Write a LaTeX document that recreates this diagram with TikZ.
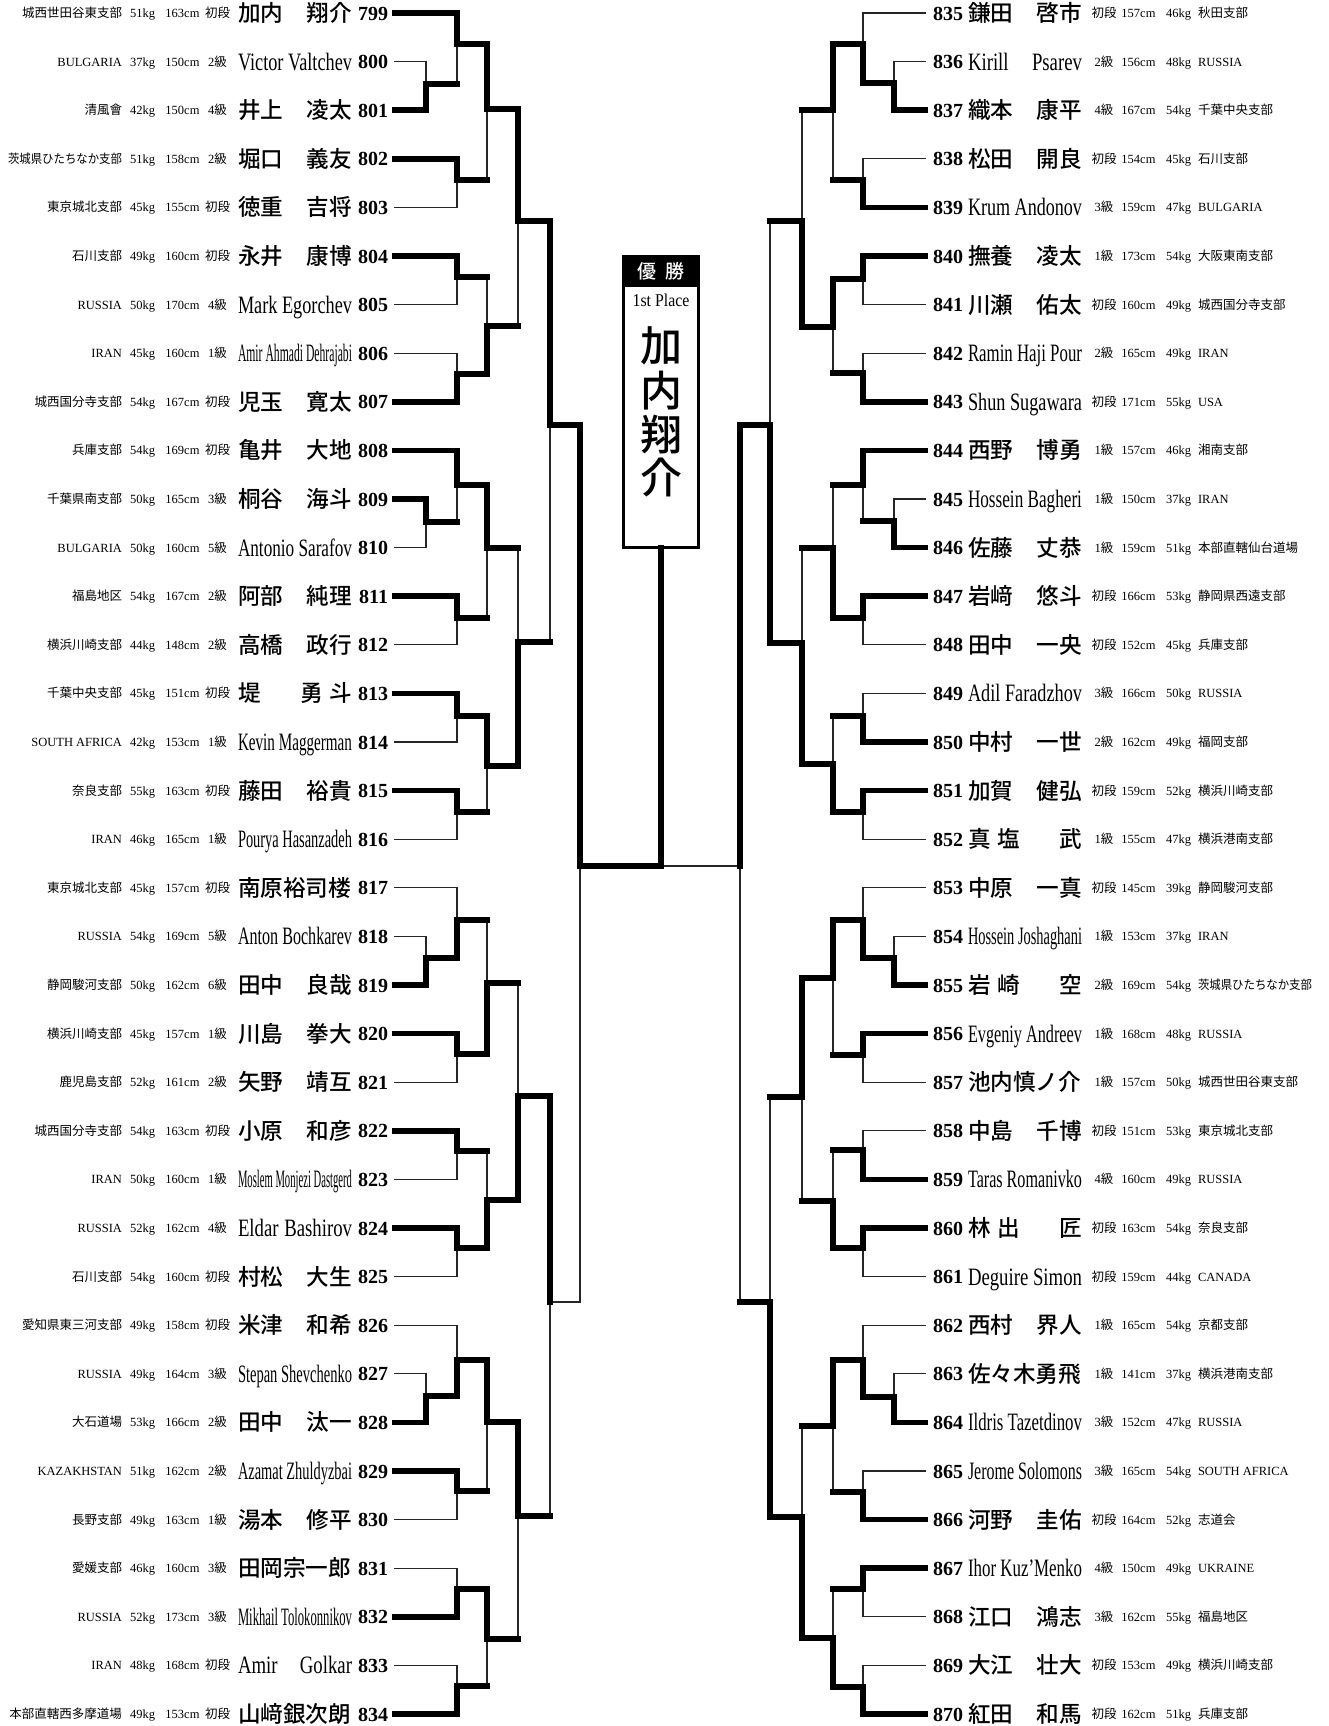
\documentclass[tikz,border=0pt]{standalone}
\usepackage{fontspec}
\usepackage{graphicx}
\setmainfont{Liberation Serif}
\IfFontExistsTF{Noto Sans CJK JP Medium}{%
  \newfontfamily\cjkfont{Noto Sans CJK JP}[BoldFont={Noto Sans CJK JP Medium}]}{%
  \newfontfamily\cjkfont{Noto Sans CJK JP}[BoldFont={Noto Sans CJK JP}]}
\usetikzlibrary{calc}
% automatic switch to the CJK font for CJK characters
\newXeTeXintercharclass\cjkcls
\newcount\cjkc
\def\setcls#1#2{\cjkc=#1\relax\loop\XeTeXcharclass\cjkc=\cjkcls\advance\cjkc by 1\relax\ifnum\cjkc<#2\repeat}
\setcls{"3000}{"3100}
\setcls{"4E00}{"A000}
\setcls{"F900}{"FB00}
\setcls{"FF00}{"FFF0}
\XeTeXinterchartoks 0 \cjkcls = {\cjkfont}
\XeTeXinterchartoks 4095 \cjkcls = {\cjkfont}
\XeTeXinterchartoks \cjkcls 0 = {\rmfamily}
\XeTeXinterchartoks \cjkcls 4095 = {\rmfamily}
\XeTeXinterchartokenstate=1

\newlength\nameW \setlength\nameW{57pt}
\newcommand\fitname[1]{\sbox0{#1}\ifdim0.75\wd0>\nameW\relax\resizebox{\nameW}{\height}{#1}\else\scalebox{0.75}[1]{\makebox[1.3333\nameW][s]{#1}}\fi}
\newcommand\ltn[1]{{\fontsize{12.5}{13}\selectfont\fitname{#1}}}
\newcommand\cjn[2]{{\fontsize{11.3}{12}\selectfont\bfseries\makebox[\nameW][s]{#1\hfill#2}}}
\newcommand\br[1]{\sbox0{#1}\ifdim\wd0>57pt\relax\resizebox{57pt}{\height}{#1}\else#1\fi}

\newcommand\Lrow[7]{%
  \pgfmathsetmacro\yy{13+48.6*#1}%
  \node[inf,anchor=base east] (b#2) at (122,\yy+4.5) {\br{#3}};
  \node[inf,anchor=base] (w#2) at (142.5,\yy+4.5) {#4};
  \node[inf,anchor=base] (h#2) at (182.5,\yy+4.5) {#5};
  \node[inf,anchor=base] (r#2) at (217.5,\yy+4.5) {#6};
  \node[anchor=base west] (nm#2) at (238,\yy+8.5) {#7};
  \node[num,anchor=base east] (n#2) at (388,\yy+7) {#2};
  \coordinate (p#2) at (395,\yy);}
\newcommand\Rrow[7]{%
  \pgfmathsetmacro\yy{13+48.6*#1}%
  \node[num,anchor=base west] (n#2) at (933,\yy+7) {#2};
  \node[anchor=base west] (nm#2) at (968,\yy+8.5) {#7};
  \node[inf,anchor=base] (r#2) at (1104,\yy+4.5) {#3};
  \node[inf,anchor=base] (h#2) at (1138.5,\yy+4.5) {#4};
  \node[inf,anchor=base] (w#2) at (1178.5,\yy+4.5) {#5};
  \node[inf,anchor=base west] (b#2) at (1198,\yy+4.5) {\br{#6}};
  \coordinate (p#2) at (925,\yy);}

% match: #1 junction, #2 top entrant, #3 bottom entrant, #4/#5 styles of their horizontals, #6 winner t/b
\newcommand\mt[6]{%
  \draw[#4] (#2) -- (#2 -| #1);
  \draw[#5] (#3) -- (#3 -| #1);
  \if t#6\relax
    \draw[thk] (#2 -| #1) -- (#1); \draw[thn] (#3 -| #1) -- (#1);
  \else
    \draw[thn] (#2 -| #1) -- (#1); \draw[thk] (#3 -| #1) -- (#1);
  \fi}

\newcommand\bracket{%
  \mt{LA1}{p800}{p801}{thn}{thk}{b}
  \mt{LA2}{p799}{LA1}{thk}{thk}{t}
  \mt{LA3}{p802}{p803}{thk}{thn}{t}
  \mt{LA4}{LA2}{LA3}{thk}{thk}{t}
  \mt{LA5}{p804}{p805}{thk}{thn}{t}
  \mt{LA6}{p806}{p807}{thn}{thk}{b}
  \mt{LA7}{LA5}{LA6}{thk}{thk}{b}
  \mt{LA8}{LA4}{LA7}{thk}{thk}{t}
  \mt{LB1}{p809}{p810}{thk}{thn}{t}
  \mt{LB2}{p808}{LB1}{thk}{thk}{t}
  \mt{LB3}{p811}{p812}{thk}{thn}{t}
  \mt{LB4}{LB2}{LB3}{thk}{thk}{t}
  \mt{LB5}{p813}{p814}{thk}{thn}{t}
  \mt{LB6}{p815}{p816}{thk}{thn}{t}
  \mt{LB7}{LB5}{LB6}{thk}{thk}{t}
  \mt{LB8}{LB4}{LB7}{thk}{thk}{b}
  \mt{LAB}{LA8}{LB8}{thk}{thk}{t}
  \mt{LC1}{p818}{p819}{thn}{thk}{b}
  \mt{LC2}{p817}{LC1}{thn}{thk}{b}
  \mt{LC3}{p820}{p821}{thk}{thn}{t}
  \mt{LC4}{LC2}{LC3}{thk}{thk}{b}
  \mt{LC5}{p822}{p823}{thk}{thn}{t}
  \mt{LC6}{p824}{p825}{thk}{thn}{t}
  \mt{LC7}{LC5}{LC6}{thk}{thk}{b}
  \mt{LC8}{LC4}{LC7}{thk}{thk}{b}
  \mt{LD1}{p827}{p828}{thn}{thk}{b}
  \mt{LD2}{p826}{LD1}{thn}{thk}{b}
  \mt{LD3}{p829}{p830}{thk}{thn}{t}
  \mt{LD4}{LD2}{LD3}{thk}{thk}{t}
  \mt{LD5}{p831}{p832}{thn}{thk}{b}
  \mt{LD6}{p833}{p834}{thn}{thk}{b}
  \mt{LD7}{LD5}{LD6}{thk}{thk}{t}
  \mt{LD8}{LD4}{LD7}{thk}{thk}{t}
  \mt{LCD}{LC8}{LD8}{thk}{thk}{t}
  \mt{LF}{LAB}{LCD}{thk}{thn}{t}
  \mt{RA1}{p836}{p837}{thn}{thk}{b}
  \mt{RA2}{p835}{RA1}{thn}{thk}{b}
  \mt{RA3}{p838}{p839}{thn}{thk}{b}
  \mt{RA4}{RA2}{RA3}{thk}{thk}{t}
  \mt{RA5}{p840}{p841}{thk}{thn}{t}
  \mt{RA6}{p842}{p843}{thn}{thk}{b}
  \mt{RA7}{RA5}{RA6}{thk}{thk}{t}
  \mt{RA8}{RA4}{RA7}{thk}{thk}{b}
  \mt{RB1}{p845}{p846}{thn}{thk}{b}
  \mt{RB2}{p844}{RB1}{thk}{thk}{t}
  \mt{RB3}{p847}{p848}{thk}{thn}{t}
  \mt{RB4}{RB2}{RB3}{thk}{thk}{b}
  \mt{RB5}{p849}{p850}{thn}{thk}{b}
  \mt{RB6}{p851}{p852}{thk}{thn}{t}
  \mt{RB7}{RB5}{RB6}{thk}{thk}{b}
  \mt{RB8}{RB4}{RB7}{thk}{thk}{b}
  \mt{RAB}{RA8}{RB8}{thk}{thk}{b}
  \mt{RC1}{p854}{p855}{thn}{thk}{b}
  \mt{RC2}{p853}{RC1}{thn}{thk}{b}
  \mt{RC3}{p856}{p857}{thk}{thn}{t}
  \mt{RC4}{RC2}{RC3}{thk}{thk}{t}
  \mt{RC5}{p858}{p859}{thn}{thk}{b}
  \mt{RC6}{p860}{p861}{thk}{thn}{t}
  \mt{RC7}{RC5}{RC6}{thk}{thk}{b}
  \mt{RC8}{RC4}{RC7}{thk}{thk}{t}
  \mt{RD1}{p863}{p864}{thn}{thk}{b}
  \mt{RD2}{p862}{RD1}{thn}{thk}{b}
  \mt{RD3}{p865}{p866}{thn}{thk}{b}
  \mt{RD4}{RD2}{RD3}{thk}{thk}{t}
  \mt{RD5}{p867}{p868}{thk}{thn}{t}
  \mt{RD6}{p869}{p870}{thn}{thk}{b}
  \mt{RD7}{RD5}{RD6}{thk}{thk}{b}
  \mt{RD8}{RD4}{RD7}{thk}{thk}{b}
  \mt{RCD}{RC8}{RD8}{thk}{thk}{b}
  \mt{RF}{RAB}{RCD}{thk}{thk}{t}
  \draw[thk] (LF) -- (C);
  \draw[thn] (RF) -- (C);
  \draw[thk] (C) -- (box.south -| C);
}

\begin{document}
\begin{tikzpicture}[x=0.5pt,y=-0.5pt,inner sep=0pt,outer sep=0pt,
  inf/.style={font=\fontsize{6.25}{7}\selectfont},
  num/.style={font=\fontsize{10}{11}\selectfont\bfseries},
  thickline/.style={line width=2.75pt,line cap=rect},
  thinline/.style={line width=0.6pt,line cap=rect,black!85}]
\fill[white] (0,0) rectangle (1329,1726);
\useasboundingbox (0,0) rectangle (1329,1726);

% left competitors
\Lrow{0}{799}{城西世田谷東支部}{51kg}{163cm}{初段}{\cjn{加内}{翔介}}
\Lrow{1}{800}{BULGARIA}{37kg}{150cm}{2級}{\ltn{Victor Valtchev}}
\Lrow{2}{801}{清風會}{42kg}{150cm}{4級}{\cjn{井上}{凌太}}
\Lrow{3}{802}{茨城県ひたちなか支部}{51kg}{158cm}{2級}{\cjn{堀口}{義友}}
\Lrow{4}{803}{東京城北支部}{45kg}{155cm}{初段}{\cjn{徳重}{吉将}}
\Lrow{5}{804}{石川支部}{49kg}{160cm}{初段}{\cjn{永井}{康博}}
\Lrow{6}{805}{RUSSIA}{50kg}{170cm}{4級}{\ltn{Mark Egorchev}}
\Lrow{7}{806}{IRAN}{45kg}{160cm}{1級}{\ltn{Amir Ahmadi Dehrajabi}}
\Lrow{8}{807}{城西国分寺支部}{54kg}{167cm}{初段}{\cjn{児玉}{寛太}}
\Lrow{9}{808}{兵庫支部}{54kg}{169cm}{初段}{\cjn{亀井}{大地}}
\Lrow{10}{809}{千葉県南支部}{50kg}{165cm}{3級}{\cjn{桐谷}{海斗}}
\Lrow{11}{810}{BULGARIA}{50kg}{160cm}{5級}{\ltn{Antonio Sarafov}}
\Lrow{12}{811}{福島地区}{54kg}{167cm}{2級}{\cjn{阿部}{純理}}
\Lrow{13}{812}{横浜川崎支部}{44kg}{148cm}{2級}{\cjn{高橋}{政行}}
\Lrow{14}{813}{千葉中央支部}{45kg}{151cm}{初段}{\cjn{堤}{勇\hspace{0.3em}斗}}
\Lrow{15}{814}{SOUTH AFRICA}{42kg}{153cm}{1級}{\ltn{Kevin Maggerman}}
\Lrow{16}{815}{奈良支部}{55kg}{163cm}{初段}{\cjn{藤田}{裕貴}}
\Lrow{17}{816}{IRAN}{46kg}{165cm}{1級}{\ltn{Pourya Hasanzadeh}}
\Lrow{18}{817}{東京城北支部}{45kg}{157cm}{初段}{\cjn{南原裕司楼}{}}
\Lrow{19}{818}{RUSSIA}{54kg}{169cm}{5級}{\ltn{Anton Bochkarev}}
\Lrow{20}{819}{静岡駿河支部}{50kg}{162cm}{6級}{\cjn{田中}{良哉}}
\Lrow{21}{820}{横浜川崎支部}{45kg}{157cm}{1級}{\cjn{川島}{拳大}}
\Lrow{22}{821}{鹿児島支部}{52kg}{161cm}{2級}{\cjn{矢野}{靖互}}
\Lrow{23}{822}{城西国分寺支部}{54kg}{163cm}{初段}{\cjn{小原}{和彦}}
\Lrow{24}{823}{IRAN}{50kg}{160cm}{1級}{\ltn{Moslem Monjezi Dastgerd}}
\Lrow{25}{824}{RUSSIA}{52kg}{162cm}{4級}{\ltn{Eldar Bashirov}}
\Lrow{26}{825}{石川支部}{54kg}{160cm}{初段}{\cjn{村松}{大生}}
\Lrow{27}{826}{愛知県東三河支部}{49kg}{158cm}{初段}{\cjn{米津}{和希}}
\Lrow{28}{827}{RUSSIA}{49kg}{164cm}{3級}{\ltn{Stepan Shevchenko}}
\Lrow{29}{828}{大石道場}{53kg}{166cm}{2級}{\cjn{田中}{汰一}}
\Lrow{30}{829}{KAZAKHSTAN}{51kg}{162cm}{2級}{\ltn{Azamat Zhuldyzbai}}
\Lrow{31}{830}{長野支部}{49kg}{163cm}{1級}{\cjn{湯本}{修平}}
\Lrow{32}{831}{愛媛支部}{46kg}{160cm}{3級}{\cjn{田岡宗一郎}{}}
\Lrow{33}{832}{RUSSIA}{52kg}{173cm}{3級}{\ltn{Mikhail Tolokonnikov}}
\Lrow{34}{833}{IRAN}{48kg}{168cm}{初段}{\ltn{Amir Golkar}}
\Lrow{35}{834}{本部直轄西多摩道場}{49kg}{153cm}{初段}{\cjn{山﨑銀次朗}{}}

% right competitors
\Rrow{0}{835}{初段}{157cm}{46kg}{秋田支部}{\cjn{鎌田}{啓市}}
\Rrow{1}{836}{2級}{156cm}{48kg}{RUSSIA}{\ltn{Kirill Psarev}}
\Rrow{2}{837}{4級}{167cm}{54kg}{千葉中央支部}{\cjn{織本}{康平}}
\Rrow{3}{838}{初段}{154cm}{45kg}{石川支部}{\cjn{松田}{開良}}
\Rrow{4}{839}{3級}{159cm}{47kg}{BULGARIA}{\ltn{Krum Andonov}}
\Rrow{5}{840}{1級}{173cm}{54kg}{大阪東南支部}{\cjn{撫養}{凌太}}
\Rrow{6}{841}{初段}{160cm}{49kg}{城西国分寺支部}{\cjn{川瀬}{佑太}}
\Rrow{7}{842}{2級}{165cm}{49kg}{IRAN}{\ltn{Ramin Haji Pour}}
\Rrow{8}{843}{初段}{171cm}{55kg}{USA}{\ltn{Shun Sugawara}}
\Rrow{9}{844}{1級}{157cm}{46kg}{湘南支部}{\cjn{西野}{博勇}}
\Rrow{10}{845}{1級}{150cm}{37kg}{IRAN}{\ltn{Hossein Bagheri}}
\Rrow{11}{846}{1級}{159cm}{51kg}{本部直轄仙台道場}{\cjn{佐藤}{丈恭}}
\Rrow{12}{847}{初段}{166cm}{53kg}{静岡県西遠支部}{\cjn{岩﨑}{悠斗}}
\Rrow{13}{848}{初段}{152cm}{45kg}{兵庫支部}{\cjn{田中}{一央}}
\Rrow{14}{849}{3級}{166cm}{50kg}{RUSSIA}{\ltn{Adil Faradzhov}}
\Rrow{15}{850}{2級}{162cm}{49kg}{福岡支部}{\cjn{中村}{一世}}
\Rrow{16}{851}{初段}{159cm}{52kg}{横浜川崎支部}{\cjn{加賀}{健弘}}
\Rrow{17}{852}{1級}{155cm}{47kg}{横浜港南支部}{\cjn{真\hspace{0.3em}塩}{武}}
\Rrow{18}{853}{初段}{145cm}{39kg}{静岡駿河支部}{\cjn{中原}{一真}}
\Rrow{19}{854}{1級}{153cm}{37kg}{IRAN}{\ltn{Hossein Joshaghani}}
\Rrow{20}{855}{2級}{169cm}{54kg}{茨城県ひたちなか支部}{\cjn{岩\hspace{0.3em}崎}{空}}
\Rrow{21}{856}{1級}{168cm}{48kg}{RUSSIA}{\ltn{Evgeniy Andreev}}
\Rrow{22}{857}{1級}{157cm}{50kg}{城西世田谷東支部}{\cjn{池内慎ノ介}{}}
\Rrow{23}{858}{初段}{151cm}{53kg}{東京城北支部}{\cjn{中島}{千博}}
\Rrow{24}{859}{4級}{160cm}{49kg}{RUSSIA}{\ltn{Taras Romanivko}}
\Rrow{25}{860}{初段}{163cm}{54kg}{奈良支部}{\cjn{林\hspace{0.3em}出}{匠}}
\Rrow{26}{861}{初段}{159cm}{44kg}{CANADA}{\ltn{Deguire Simon}}
\Rrow{27}{862}{1級}{165cm}{54kg}{京都支部}{\cjn{西村}{界人}}
\Rrow{28}{863}{1級}{141cm}{37kg}{横浜港南支部}{\cjn{佐々木勇飛}{}}
\Rrow{29}{864}{3級}{152cm}{47kg}{RUSSIA}{\ltn{Ildris Tazetdinov}}
\Rrow{30}{865}{3級}{165cm}{54kg}{SOUTH AFRICA}{\ltn{Jerome Solomons}}
\Rrow{31}{866}{初段}{164cm}{52kg}{志道会}{\cjn{河野}{圭佑}}
\Rrow{32}{867}{4級}{150cm}{49kg}{UKRAINE}{\ltn{Ihor Kuz'Menko}}
\Rrow{33}{868}{3級}{162cm}{55kg}{福島地区}{\cjn{江口}{鴻志}}
\Rrow{34}{869}{初段}{153cm}{49kg}{横浜川崎支部}{\cjn{大江}{壮大}}
\Rrow{35}{870}{初段}{162cm}{51kg}{兵庫支部}{\cjn{紅田}{和馬}}

% champion box
\node[draw,line width=1.4pt,minimum width=37.5pt,minimum height=145.5pt,anchor=north] (box) at (661,256.5) {};
\fill (box.north west) rectangle ($(box.north east)+(0,30)$);
\node[text=white,font=\fontsize{9.5}{10}\selectfont\bfseries] (yusho) at (661,271.5) {優\hspace{0.5em}勝};
\node[font=\fontsize{9}{10}\selectfont] (first) at (661,300) {\scalebox{0.88}[1]{1st Place}};
\node[font=\fontsize{21}{22}\selectfont\bfseries] (k1) at (661,346) {加};
\node[font=\fontsize{21}{22}\selectfont\bfseries] (k2) at (661,391) {内};
\node[font=\fontsize{21}{22}\selectfont\bfseries] (k3) at (661,435) {翔};
\node[font=\fontsize{21}{22}\selectfont\bfseries] (k4) at (661,478) {介};

% match junctions
\coordinate (LA1) at (426,84);   \coordinate (LA2) at (457,44);
\coordinate (LA3) at (457,180);  \coordinate (LA4) at (487,109);
\coordinate (LA5) at (457,277);  \coordinate (LA6) at (457,374);
\coordinate (LA7) at (487,326);  \coordinate (LA8) at (518,221);
\coordinate (LB1) at (426,522);  \coordinate (LB2) at (457,485);
\coordinate (LB3) at (457,618);  \coordinate (LB4) at (487,548);
\coordinate (LB5) at (457,716);  \coordinate (LB6) at (457,812);
\coordinate (LB7) at (487,766);  \coordinate (LB8) at (518,642);
\coordinate (LAB) at (550,425);
\coordinate (LC1) at (426,958);  \coordinate (LC2) at (457,920);
\coordinate (LC3) at (457,1054); \coordinate (LC4) at (487,983);
\coordinate (LC5) at (457,1151); \coordinate (LC6) at (457,1248);
\coordinate (LC7) at (487,1200); \coordinate (LC8) at (518,1096);
\coordinate (LD1) at (426,1396); \coordinate (LD2) at (457,1360);
\coordinate (LD3) at (457,1491); \coordinate (LD4) at (487,1422);
\coordinate (LD5) at (457,1589); \coordinate (LD6) at (457,1686);
\coordinate (LD7) at (487,1639); \coordinate (LD8) at (518,1516);
\coordinate (LCD) at (550,1302);
\coordinate (LF) at (580,866);
\coordinate (RA1) at (894,83);   \coordinate (RA2) at (863,44);
\coordinate (RA3) at (863,180);  \coordinate (RA4) at (833,110);
\coordinate (RA5) at (863,279);  \coordinate (RA6) at (863,373);
\coordinate (RA7) at (833,327);  \coordinate (RA8) at (802,221);
\coordinate (RB1) at (894,521);  \coordinate (RB2) at (863,485);
\coordinate (RB3) at (863,618);  \coordinate (RB4) at (833,548);
\coordinate (RB5) at (863,716);  \coordinate (RB6) at (863,812);
\coordinate (RB7) at (833,764);  \coordinate (RB8) at (802,643);
\coordinate (RAB) at (770,425);
\coordinate (RC1) at (894,958);  \coordinate (RC2) at (863,920);
\coordinate (RC3) at (863,1055); \coordinate (RC4) at (833,978);
\coordinate (RC5) at (863,1150); \coordinate (RC6) at (863,1248);
\coordinate (RC7) at (833,1201); \coordinate (RC8) at (802,1097);
\coordinate (RD1) at (894,1397); \coordinate (RD2) at (863,1360);
\coordinate (RD3) at (863,1492); \coordinate (RD4) at (833,1426);
\coordinate (RD5) at (863,1589); \coordinate (RD6) at (863,1687);
\coordinate (RD7) at (833,1638); \coordinate (RD8) at (802,1517);
\coordinate (RCD) at (770,1302);
\coordinate (RF) at (740,866);
\coordinate (C) at (661,866);

% thin lines first, thick lines on top
\tikzset{thk/.style={draw=none},thn/.style={thinline}}
\bracket
\tikzset{thk/.style={thickline},thn/.style={draw=none}}
\bracket
\end{tikzpicture}
\end{document}
